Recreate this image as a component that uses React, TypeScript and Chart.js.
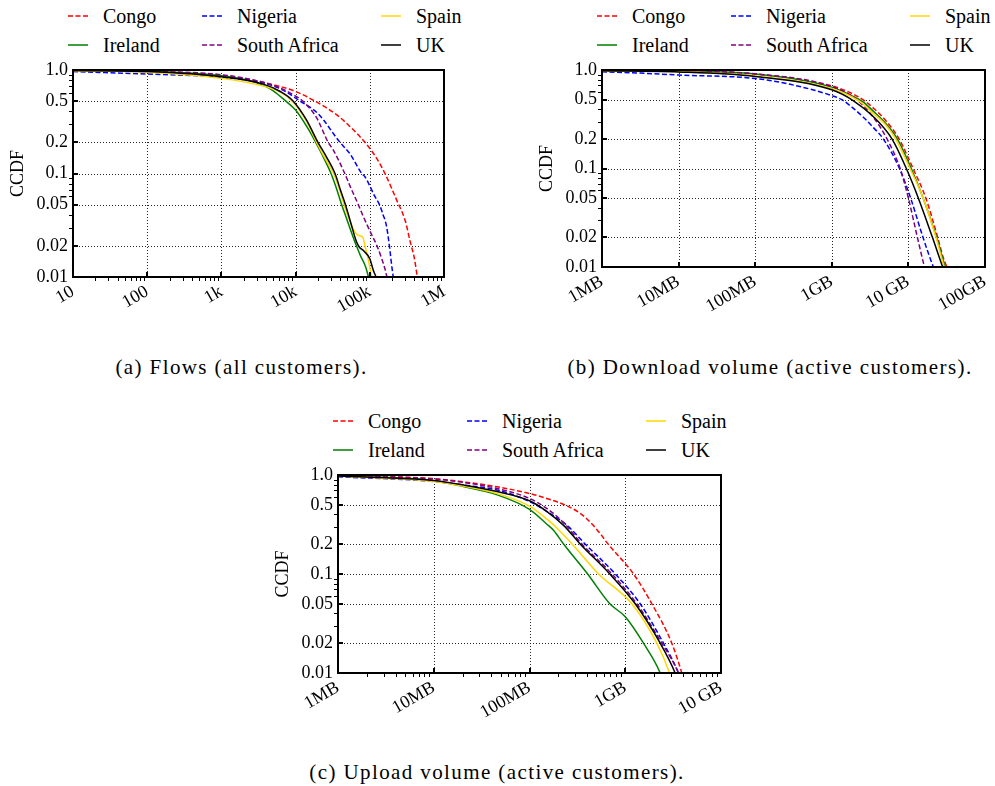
import React, { useEffect, useRef } from 'react';
import { Chart, registerables } from 'chart.js';

Chart.register(...registerables);

// ---------------- data ----------------
const countries = ['Congo', 'Ireland', 'Nigeria', 'South Africa', 'Spain', 'UK'];

const yTickValues = [0.01, 0.02, 0.05, 0.1, 0.2, 0.5, 1];
const yTickLabels = ['0.01', '0.02', '0.05', '0.1', '0.2', '0.5', '1.0'];

const flowsTickValues = [10, 100, 1e3, 1e4, 1e5, 1e6];
const flowsTickLabels = ['10', '100', '1k', '10k', '100k', '1M'];
// volumes in MB
const dlTickValues = [1, 10, 100, 1e3, 1e4, 1e5];
const dlTickLabels = ['1MB', '10MB', '100MB', '1GB', '10 GB', '100GB'];
const ulTickValues = [1, 10, 100, 1e3, 1e4];
const ulTickLabels = ['1MB', '10MB', '100MB', '1GB', '10 GB'];

const captions = [
  '(a) Flows (all customers).',
  '(b) Download volume (active customers).',
  '(c) Upload volume (active customers).',
];

// (a) flows per customer: [flows, CCDF]
const flowsCongo = [[10, 0.985], [100, 0.965], [1000, 0.89], [3670, 0.76], [10000, 0.62], [18300, 0.5], [35600, 0.37], [53800, 0.285], [86000, 0.2], [120000, 0.145], [160000, 0.1], [231000, 0.055], [300000, 0.035], [350000, 0.022], [400000, 0.015], [437000, 0.01], [480000, 0.007]];
const flowsIreland = [[10, 0.99], [100, 0.97], [1000, 0.88], [2400, 0.79], [3670, 0.71], [5000, 0.63], [7400, 0.5], [10000, 0.41], [15000, 0.265], [18300, 0.205], [23000, 0.15], [30000, 0.1], [35000, 0.074], [41000, 0.052], [48500, 0.037], [60000, 0.024], [66000, 0.02], [75000, 0.016], [88000, 0.0125], [96000, 0.01], [100000, 0.009]];
const flowsNigeria = [[10, 0.965], [100, 0.915], [1000, 0.85], [3670, 0.75], [6200, 0.66], [11500, 0.5], [20000, 0.38], [39600, 0.2], [54000, 0.155], [78000, 0.1], [86000, 0.093], [117000, 0.06], [135000, 0.05], [151000, 0.04], [168000, 0.031], [187000, 0.018], [197000, 0.013], [207000, 0.01], [215000, 0.008]];
const flowsSouthAfrica = [[10, 0.985], [100, 0.97], [1000, 0.9], [3670, 0.76], [6200, 0.67], [10000, 0.56], [12500, 0.5], [19000, 0.35], [27500, 0.2], [32000, 0.17], [46000, 0.1], [54000, 0.076], [70000, 0.05], [81000, 0.039], [100000, 0.028], [125000, 0.02], [145000, 0.015], [160000, 0.012], [170000, 0.01], [175000, 0.009]];
const flowsSpain = [[10, 0.985], [100, 0.95], [1000, 0.83], [3670, 0.7], [6200, 0.61], [9000, 0.5], [14000, 0.32], [19200, 0.2], [25000, 0.14], [32500, 0.1], [39000, 0.07], [45000, 0.05], [50000, 0.04], [60000, 0.029], [66000, 0.026], [73000, 0.025], [80000, 0.0245], [86000, 0.02], [95000, 0.015], [106000, 0.01], [110000, 0.009]];
const flowsUK = [[10, 0.99], [100, 0.965], [1000, 0.86], [3670, 0.73], [6200, 0.62], [9300, 0.5], [14000, 0.33], [20000, 0.2], [26000, 0.145], [34000, 0.1], [40000, 0.07], [47000, 0.05], [55000, 0.034], [66000, 0.022], [72000, 0.0195], [82000, 0.018], [100000, 0.015], [112000, 0.0115], [121000, 0.01], [125000, 0.009]];

// (b) download volume: [MB, CCDF]
const dlCongo = [[1, 0.985], [10, 0.97], [100, 0.91], [1000, 0.69], [1900, 0.57], [2750, 0.48], [3500, 0.41], [5000, 0.31], [7540, 0.2], [11500, 0.1], [16900, 0.05], [24100, 0.02], [28000, 0.013], [31600, 0.01], [33000, 0.009]];
const dlIreland = [[1, 0.985], [10, 0.97], [100, 0.91], [1000, 0.67], [1900, 0.54], [2610, 0.47], [3500, 0.38], [5000, 0.29], [7160, 0.2], [10900, 0.1], [15600, 0.05], [23300, 0.02], [30100, 0.01], [31500, 0.009]];
const dlNigeria = [[1, 0.96], [3.2, 0.93], [10, 0.89], [100, 0.82], [286, 0.715], [1000, 0.55], [1350, 0.5], [1900, 0.41], [2600, 0.33], [3500, 0.26], [4700, 0.2], [7650, 0.1], [10700, 0.05], [15500, 0.02], [21200, 0.01], [22500, 0.009]];
const dlSouthAfrica = [[1, 0.985], [10, 0.975], [100, 0.915], [1000, 0.68], [2000, 0.52], [3500, 0.33], [5250, 0.2], [7800, 0.1], [10000, 0.05], [13100, 0.02], [16200, 0.01], [17500, 0.008]];
const dlSpain = [[1, 0.98], [10, 0.96], [100, 0.87], [1000, 0.645], [2300, 0.48], [3500, 0.36], [5000, 0.28], [6800, 0.2], [10500, 0.1], [15600, 0.05], [22900, 0.02], [29400, 0.01], [31000, 0.009]];
const dlUK = [[1, 0.98], [10, 0.955], [100, 0.86], [1000, 0.63], [1900, 0.49], [3500, 0.335], [6100, 0.2], [9400, 0.1], [13500, 0.05], [20600, 0.02], [28000, 0.01], [29500, 0.009]];

// (c) upload volume: [MB, CCDF]
const ulCongo = [[1, 0.98], [10, 0.92], [20.8, 0.85], [46, 0.76], [100, 0.65], [151, 0.58], [256, 0.48], [338, 0.41], [398, 0.36], [550, 0.255], [650, 0.205], [1221, 0.1], [1896, 0.05], [3063, 0.02], [3893, 0.01], [4300, 0.007]];
const ulIreland = [[1, 0.975], [10, 0.877], [20.8, 0.76], [46, 0.63], [100, 0.45], [151, 0.32], [179, 0.275], [228, 0.2], [405, 0.1], [690, 0.05], [1000, 0.037], [1550, 0.02], [2317, 0.01], [2500, 0.008]];
const ulNigeria = [[1, 0.96], [10, 0.86], [20.8, 0.79], [46, 0.705], [100, 0.54], [151, 0.43], [246, 0.31], [383, 0.2], [787, 0.1], [1432, 0.05], [2506, 0.02], [3597, 0.01], [3900, 0.008]];
const ulSouthAfrica = [[1, 0.98], [10, 0.91], [20.8, 0.84], [46, 0.73], [100, 0.58], [151, 0.46], [227, 0.33], [354, 0.2], [727, 0.1], [1321, 0.05], [2410, 0.02], [3597, 0.01], [3900, 0.008]];
const ulSpain = [[1, 0.975], [10, 0.86], [20.8, 0.77], [46, 0.65], [100, 0.485], [151, 0.36], [194, 0.29], [280, 0.2], [527, 0.1], [1172, 0.05], [2138, 0.02], [2897, 0.01], [3100, 0.008]];
const ulUK = [[1, 0.975], [10, 0.88], [20.8, 0.79], [46, 0.68], [100, 0.55], [151, 0.43], [227, 0.31], [340, 0.2], [690, 0.1], [1271, 0.05], [2317, 0.02], [3319, 0.01], [3600, 0.008]];

const flowsSeries = [flowsCongo, flowsIreland, flowsNigeria, flowsSouthAfrica, flowsSpain, flowsUK];
const dlSeries = [dlCongo, dlIreland, dlNigeria, dlSouthAfrica, dlSpain, dlUK];
const ulSeries = [ulCongo, ulIreland, ulNigeria, ulSouthAfrica, ulSpain, ulUK];

// ---------------- styles ----------------
const seriesColors = ['#ff0000', '#008000', '#0000ff', '#800080', '#ffd700', '#000000'];
const seriesDashed = [true, false, true, true, false, false];
const FONT = '"Liberation Serif", "Times New Roman", serif';

function minorsFor(majors: number[], skip: number[] = []) {
  const out: number[] = [];
  for (let i = 0; i < majors.length - 1; i++) {
    for (let k = 2; k <= 9; k++) {
      if (!skip.includes(k)) out.push(majors[i] * k);
    }
  }
  return out;
}

const framePlugin = {
  id: 'frame',
  beforeDatasetsDraw(chart: any, _args: any, opts: any) {
    const { ctx, chartArea: a, scales } = chart;
    const x = scales.x, y = scales.y;
    ctx.save();
    ctx.strokeStyle = 'rgba(0,0,0,0.85)';
    ctx.lineWidth = 1;
    ctx.setLineDash([1, 2]);
    for (const v of opts.xMajor) {
      const px = Math.round(x.getPixelForValue(v)) + 0.5;
      if (px <= a.left + 2 || px >= a.right - 2) continue;
      ctx.beginPath(); ctx.moveTo(px, a.top); ctx.lineTo(px, a.bottom); ctx.stroke();
    }
    for (const v of opts.yMajor) {
      const py = Math.round(y.getPixelForValue(v)) + 0.5;
      if (py <= a.top + 2 || py >= a.bottom - 2) continue;
      ctx.beginPath(); ctx.moveTo(a.left, py); ctx.lineTo(a.right, py); ctx.stroke();
    }
    ctx.restore();
  },
  afterDatasetsDraw(chart: any, _args: any, opts: any) {
    const { ctx, chartArea: a, scales } = chart;
    const x = scales.x, y = scales.y;
    ctx.save();
    ctx.setLineDash([]);
    ctx.strokeStyle = '#000';
    // minor ticks (outside)
    ctx.lineWidth = 1;
    if (opts.showXMinor) {
      for (const v of opts.xMinor) {
        const px = Math.round(x.getPixelForValue(v)) + 0.5;
        ctx.beginPath(); ctx.moveTo(px, a.bottom); ctx.lineTo(px, a.bottom + 4); ctx.stroke();
      }
    }
    for (const v of opts.yMinor) {
      const py = Math.round(y.getPixelForValue(v)) + 0.5;
      ctx.beginPath(); ctx.moveTo(a.left - 4, py); ctx.lineTo(a.left, py); ctx.stroke();
    }
    // major ticks (inside)
    ctx.lineWidth = 2;
    for (const v of opts.xMajor) {
      const px = Math.round(x.getPixelForValue(v));
      ctx.beginPath(); ctx.moveTo(px, a.bottom); ctx.lineTo(px, a.bottom - 5); ctx.stroke();
    }
    for (const v of opts.yMajor) {
      const py = Math.round(y.getPixelForValue(v));
      ctx.beginPath(); ctx.moveTo(a.left, py); ctx.lineTo(a.left + 5, py); ctx.stroke();
    }
    // frame
    ctx.lineWidth = 2;
    ctx.strokeRect(a.left, a.top, a.right - a.left, a.bottom - a.top);
    ctx.restore();
  },
};

type PanelProps = {
  left: number; top: number; width: number; height: number;
  xAxisH: number; padRight: number;
  series: number[][][];
  xTicks: number[]; xLabels: string[];
  showXMinor: boolean;
};

function Panel(p: PanelProps) {
  const ref = useRef<HTMLCanvasElement>(null);
  useEffect(() => {
    const xMin = p.xTicks[0];
    const xMax = p.xTicks[p.xTicks.length - 1];
    const chart = new Chart(ref.current as HTMLCanvasElement, {
      type: 'line',
      data: {
        datasets: p.series.map((pts, i) => ({
          label: countries[i],
          data: pts.map(([x, y]) => ({ x, y })),
          borderColor: seriesColors[i],
          backgroundColor: seriesColors[i],
          borderWidth: 1.5,
          borderDash: seriesDashed[i] ? [5, 2.5] : [],
          pointRadius: 0,
          fill: false,
          cubicInterpolationMode: 'monotone',
          order: p.series.length - i,
        })),
      },
      options: {
        responsive: false,
        animation: false,
        devicePixelRatio: 1,
        layout: { padding: { top: 16, right: p.padRight, left: 0, bottom: 0 } },
        plugins: {
          legend: { display: false },
          tooltip: { enabled: false },
          frame: {
            xMajor: p.xTicks,
            xMinor: minorsFor(p.xTicks),
            yMajor: yTickValues,
            yMinor: minorsFor([0.01, 0.1, 1], [2, 5]),
            showXMinor: p.showXMinor,
          },
        } as any,
        scales: {
          x: {
            type: 'logarithmic',
            min: xMin,
            max: xMax,
            grid: { display: false, drawTicks: false },
            border: { display: false },
            afterBuildTicks: (s: any) => { s.ticks = p.xTicks.map((v) => ({ value: v })); },
            afterFit: (s: any) => { s.height = p.xAxisH; },
            ticks: {
              autoSkip: false,
              maxRotation: 30,
              minRotation: 30,
              padding: 4,
              color: '#000',
              font: { family: FONT, size: 18 },
              callback: (_v: any, i: number) => p.xLabels[i],
            },
          },
          y: {
            type: 'logarithmic',
            min: 0.01,
            max: 1,
            grid: { display: false, drawTicks: false },
            border: { display: false },
            afterBuildTicks: (s: any) => { s.ticks = yTickValues.map((v) => ({ value: v })); },
            afterFit: (s: any) => { s.width = 73; },
            ticks: {
              autoSkip: false,
              padding: 5,
              color: '#000',
              font: { family: FONT, size: 18 },
              callback: (_v: any, i: number) => yTickLabels[i],
            },
            title: {
              display: true,
              text: 'CCDF',
              color: '#000',
              font: { family: FONT, size: 18 },
              padding: { top: 7, bottom: 0 },
            },
          },
        } as any,
      },
      plugins: [framePlugin as any],
    } as any);
    return () => chart.destroy();
  }, []);
  return (
    <canvas
      ref={ref}
      width={p.width}
      height={p.height}
      style={{ position: 'absolute', left: p.left, top: p.top, width: p.width, height: p.height }}
    />
  );
}

const legendColOffsets = [-5, 129, 308];

function Legend({ plotLeft, row1 }: { plotLeft: number; row1: number }) {
  const items: any[] = [];
  for (let c = 0; c < 3; c++) {
    for (let r = 0; r < 2; r++) {
      const i = c * 2 + r;
      const cy = row1 + r * 28.5;
      const sx = plotLeft + legendColOffsets[c];
      items.push(
        <svg key={'s' + i} width={20} height={4}
          style={{ position: 'absolute', left: sx, top: cy - 2 }}>
          <line x1={0} y1={2} x2={20} y2={2} stroke={seriesColors[i]} strokeWidth={1.5}
            strokeDasharray={seriesDashed[i] ? '5 2.5' : undefined} />
        </svg>,
      );
      items.push(
        <div key={'t' + i}
          style={{ position: 'absolute', left: sx + 35, top: cy - 12, height: 24, lineHeight: '24px',
            fontFamily: FONT, fontSize: 20, color: '#000', whiteSpace: 'nowrap' }}>
          {countries[i]}
        </div>,
      );
    }
  }
  return <>{items}</>;
}

function Caption({ text, cx, cy }: { text: string; cx: number; cy: number }) {
  return (
    <div style={{ position: 'absolute', left: cx - 300, top: cy - 13, width: 600, height: 26,
      lineHeight: '26px', textAlign: 'center', fontFamily: FONT, fontSize: 21, letterSpacing: '1.4px',
      color: '#000', whiteSpace: 'nowrap' }}>
      {text}
    </div>
  );
}

export default function App() {
  return (
    <div style={{ position: 'absolute', left: 0, top: 0, width: 995, height: 786, background: '#fff', overflow: 'hidden' }}>
      <Legend plotLeft={73} row1={16} />
      <Legend plotLeft={602} row1={16} />
      <Legend plotLeft={338} row1={421} />
      <Panel left={0} top={54} width={462} height={290} xAxisH={67} padRight={18}
        series={flowsSeries} xTicks={flowsTickValues} xLabels={flowsTickLabels} showXMinor={true} />
      <Panel left={529} top={54} width={471} height={290} xAxisH={77} padRight={15}
        series={dlSeries} xTicks={dlTickValues} xLabels={dlTickLabels} showXMinor={false} />
      <Panel left={265} top={459} width={474} height={290} xAxisH={76} padRight={18}
        series={ulSeries} xTicks={ulTickValues} xLabels={ulTickLabels} showXMinor={true} />
      <Caption text={captions[0]} cx={241.5} cy={367} />
      <Caption text={captions[1]} cx={770} cy={367} />
      <Caption text={captions[2]} cx={497} cy={772} />
    </div>
  );
}
